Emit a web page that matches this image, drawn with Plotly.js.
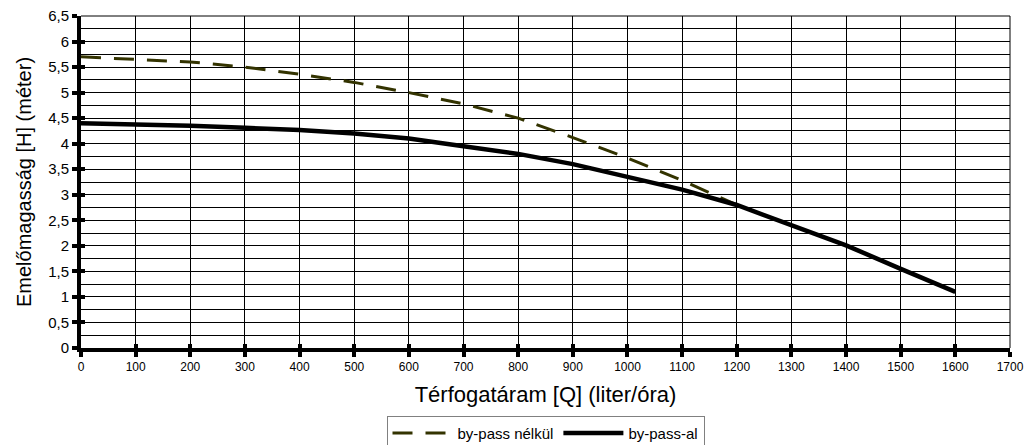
<!DOCTYPE html>
<html>
<head>
<meta charset="utf-8">
<script src="https://cdn.plot.ly/plotly-3.0.1.min.js"></script>
<style>html,body{margin:0;padding:0;background:#fff;}#chart{width:1030px;height:445px;}</style>
</head>
<body>
<div id="chart"></div>
<script>
const flowQ = [0,100,200,300,400,500,600,700,800,900,1000,1100,1200,1300,1400,1500,1600];
const withBypass = [4.4,4.38,4.35,4.31,4.27,4.2,4.1,3.95,3.8,3.6,3.36,3.1,2.8,2.4,2.01,1.55,1.1];
const flowQNoBypass = [0,100,200,300,400,500,600,700,800,900,1000,1100,1200];
const withoutBypass = [5.7,5.65,5.6,5.5,5.36,5.2,5.0,4.78,4.5,4.12,3.72,3.28,2.8];
const xTicks = [0,100,200,300,400,500,600,700,800,900,1000,1100,1200,1300,1400,1500,1600,1700];
const yTicks = [0,0.5,1,1.5,2,2.5,3,3.5,4,4.5,5,5.5,6,6.5];
const yTickText = ['0','0,5','1','1,5','2','2,5','3','3,5','4','4,5','5','5,5','6','6,5'];

const traces = [
  {x: flowQNoBypass, y: withoutBypass, name: 'by-pass nélkül', mode: 'lines',
   line: {color: '#333300', width: 3, dash: '20px,13px'}},
  {x: flowQ, y: withBypass, name: 'by-pass-al', mode: 'lines',
   line: {color: '#000000', width: 4.5}}
];

const layout = {
  width: 1030, height: 445,
  margin: {l: 81, r: 20, t: 16, b: 97},
  paper_bgcolor: '#fff', plot_bgcolor: '#fff',
  font: {family: 'Liberation Sans, Arial, sans-serif', color: '#000'},
  showlegend: true,
  legend: {orientation: 'h', x: 0.5, xanchor: 'center', xref: 'paper',
    yref: 'container', y: 0.066, yanchor: 'top',
    bordercolor: '#808080', borderwidth: 1, font: {size: 15, color: '#000'},
    tracegroupgap: 0, itemwidth: 60},
  xaxis: {range: [0, 1700], tickvals: xTicks, ticktext: xTicks.map(String),
    tickfont: {size: 12}, showgrid: true, gridcolor: '#000', gridwidth: 1,
    showline: true, linecolor: '#000', linewidth: 4, zeroline: false,
    ticks: 'outside', ticklen: 5, tickwidth: 4, tickcolor: '#000',
    mirror: false, automargin: false,
    title: {text: 'Térfogatáram [Q] (liter/óra)', font: {size: 22}, standoff: 14}},
  yaxis: {range: [0, 6.5], tickvals: yTicks, ticktext: yTickText,
    tickfont: {size: 15}, showgrid: true, gridcolor: '#000', gridwidth: 1,
    minor: {dtick: 0.25, showgrid: true, gridcolor: '#000', gridwidth: 1},
    showline: true, linecolor: '#000', linewidth: 4, zeroline: false,
    ticks: 'outside', ticklen: 5, tickwidth: 4, tickcolor: '#000', automargin: false,
    title: {text: 'Emelőmagasság [H] (méter)', font: {size: 20}, standoff: 12}},
  xaxis2: {overlaying: 'x', range: [0, 1700], tickvals: xTicks, showticklabels: false,
    showgrid: false, zeroline: false, ticks: 'inside', ticklen: 4, tickwidth: 4,
    tickcolor: '#000', side: 'bottom', anchor: 'y', automargin: false},
  yaxis2: {overlaying: 'y', range: [0, 6.5], tickvals: yTicks, showticklabels: false,
    showgrid: false, zeroline: false, ticks: 'inside', ticklen: 4, tickwidth: 4,
    tickcolor: '#000', side: 'left', anchor: 'x', automargin: false},
  shapes: [
    {type: 'line', xref: 'paper', yref: 'paper', x0: 0, x1: 1, y0: 1, y1: 1, line: {color: '#000', width: 1}},
    {type: 'line', xref: 'paper', yref: 'paper', x0: 1, x1: 1, y0: 0, y1: 1, line: {color: '#000', width: 1}}
  ]
};

traces.push({x: [0], y: [0], xaxis: 'x2', yaxis: 'y2', mode: 'markers',
  marker: {opacity: 0}, showlegend: false, hoverinfo: 'skip'});

Plotly.newPlot('chart', traces, layout, {displayModeBar: false, staticPlot: true});
</script>
</body>
</html>
